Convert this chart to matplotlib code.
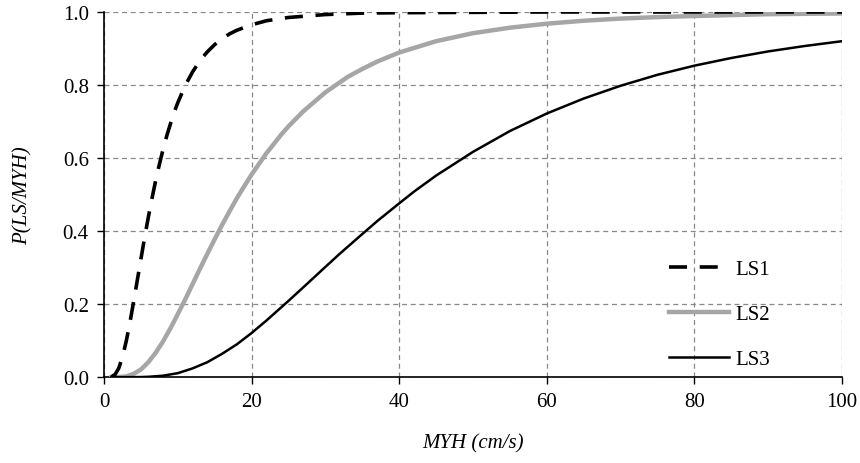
import matplotlib
matplotlib.use("Agg")
from matplotlib import pyplot as plt

plt.rcParams['font.family'] = ['Liberation Serif', 'DejaVu Serif']

# values
ls1_x = [1, 1.5, 2, 2.5, 3, 3.5, 4, 4.5, 5, 5.5, 6, 6.5, 7, 7.5, 8, 8.5, 9, 9.5, 10, 11, 12,
         13, 14, 15, 16, 17, 18, 20, 22, 25, 30, 35, 40, 50, 60, 70, 80, 90, 100]
ls1_y = [0.001, 0.0075, 0.025, 0.056, 0.098, 0.149, 0.206, 0.265, 0.324, 0.383, 0.438, 0.490,
         0.539, 0.583, 0.624, 0.661, 0.694, 0.725, 0.752, 0.799, 0.836, 0.867, 0.891, 0.911,
         0.927, 0.940, 0.950, 0.965, 0.976, 0.985, 0.993, 0.997, 0.998, 0.999, 1.0, 1.0, 1.0,
         1.0, 1.0]

ls2_x = [1, 2, 3, 4, 5, 6, 7, 8, 9, 10, 11, 12, 13, 14, 15, 16, 17, 18, 19, 20, 22, 24, 25,
         27, 30, 33, 35, 37, 40, 45, 50, 55, 60, 65, 70, 75, 80, 90, 100]
ls2_y = [0.0, 0.0003, 0.002, 0.009, 0.021, 0.041, 0.067, 0.098, 0.134, 0.173, 0.213, 0.255,
         0.297, 0.338, 0.378, 0.417, 0.454, 0.490, 0.523, 0.555, 0.613, 0.664, 0.687, 0.728,
         0.780, 0.822, 0.844, 0.864, 0.889, 0.920, 0.942, 0.957, 0.968, 0.976, 0.982, 0.986,
         0.989, 0.994, 0.996]

ls3_x = [1, 3, 5, 6, 8, 10, 12, 14, 16, 18, 20, 22, 25, 27, 30, 32, 35, 37, 40, 42, 45, 47,
         50, 55, 60, 65, 70, 75, 80, 85, 90, 95, 100]
ls3_y = [0.0, 0.0, 0.0003, 0.001, 0.004, 0.011, 0.024, 0.041, 0.064, 0.090, 0.121, 0.155,
         0.209, 0.246, 0.302, 0.339, 0.392, 0.427, 0.476, 0.508, 0.552, 0.578, 0.617, 0.674,
         0.722, 0.763, 0.798, 0.828, 0.853, 0.874, 0.892, 0.907, 0.920]

x_ticks = [0, 20, 40, 60, 80, 100]
y_ticks = [0.0, 0.2, 0.4, 0.6, 0.8, 1.0]

FS = 15


def main():
    fig = plt.figure(figsize=(8.6, 4.64), dpi=100)
    ax = fig.add_axes([0.121, 0.185, 0.858, 0.787])

    ax.plot(ls1_x, ls1_y, color='black', lw=2.6, dashes=(5, 3.5), label='LS1', zorder=4)
    ax.plot(ls2_x, ls2_y, color='#a6a6a6', lw=3.2, label='LS2', zorder=3)
    ax.plot(ls3_x, ls3_y, color='black', lw=1.8, label='LS3', zorder=3)

    ax.set_xlim(0, 100)
    ax.set_ylim(0, 1)
    ax.set_xticks(x_ticks)
    ax.set_yticks(y_ticks)
    ax.set_yticklabels([f'{v:.1f}' for v in y_ticks])
    ax.tick_params(direction='out', length=5, width=1, labelsize=FS, pad=6)

    ax.grid(True, color='#888888', linestyle=(0, (4, 3)), lw=0.9)
    ax.set_axisbelow(True)
    for s in ('top', 'right'):
        ax.spines[s].set_visible(False)
    for s in ('left', 'bottom'):
        ax.spines[s].set_linewidth(1.2)

    ax.set_xlabel('MYH (cm/s)', fontsize=FS, style='italic', labelpad=16)
    ax.set_ylabel('P(LS/MYH)', fontsize=FS, style='italic', labelpad=22)

    ax.legend(loc='lower left', bbox_to_anchor=(0.765, 0.022), frameon=False, fontsize=FS,
              handlelength=2.9, handletextpad=0.3, labelspacing=1.22,
              borderpad=0, borderaxespad=0)

    fig.savefig('out.png', dpi=100)


if __name__ == '__main__':
    main()
